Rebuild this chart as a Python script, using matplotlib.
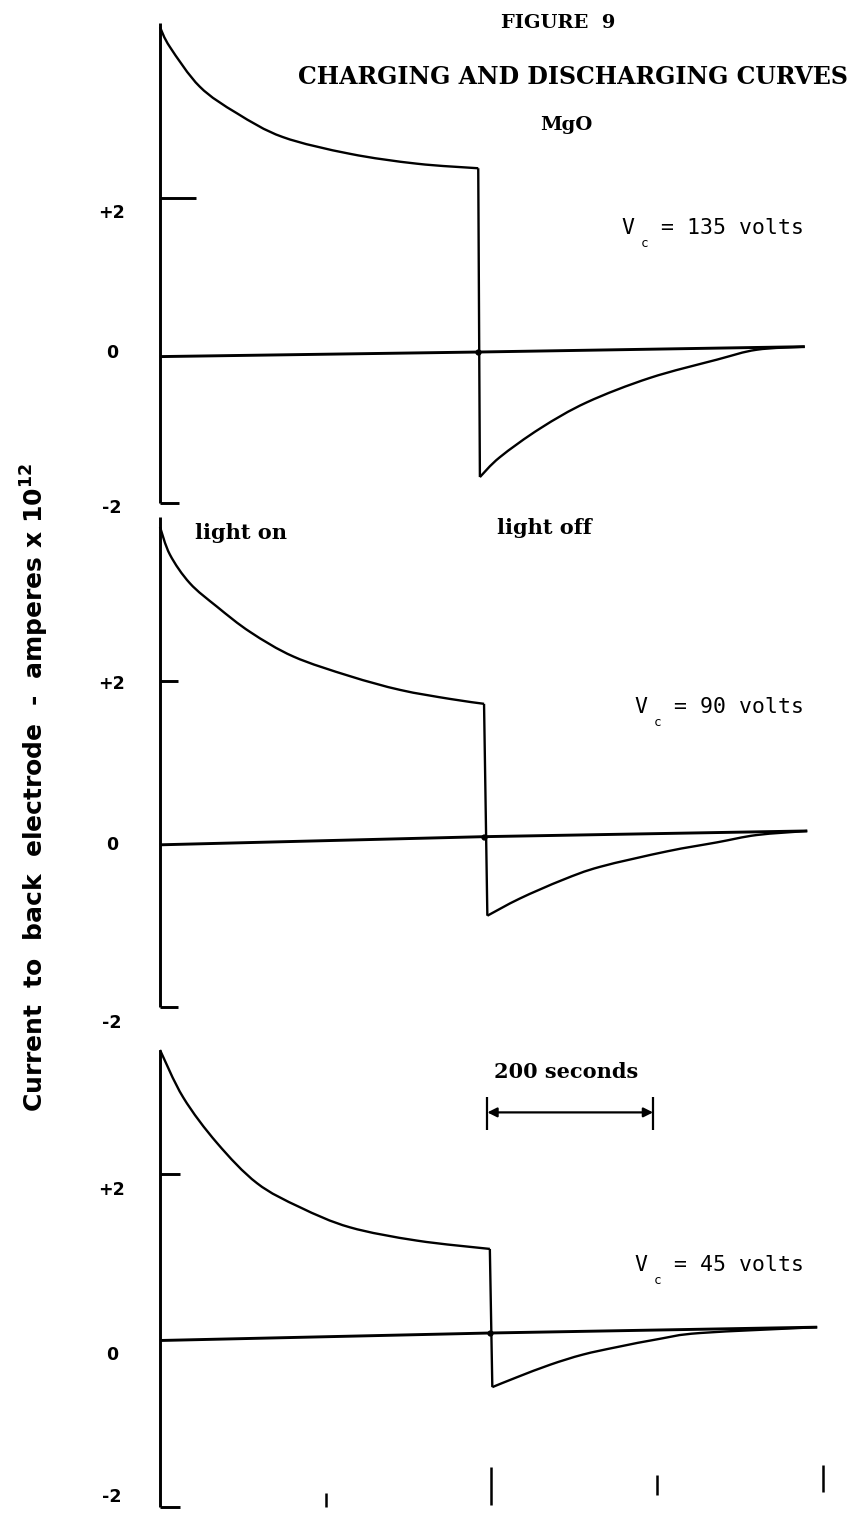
import matplotlib.pyplot as plt
from matplotlib.path import Path
from matplotlib.patches import PathPatch

W, H = 853, 1514

# time in seconds, current in units of 1e-12 A
time_ticks = [200, 400, 600, 800]
tick_values = [2, 0, -2]
tick_labels = ["+2", "0", "-2"]

# Vc = 135 volts
t135_on = [0, 12, 48, 93, 148, 229, 310, 384]
i135_on = [4.24, 3.98, 3.46, 3.11, 2.80, 2.58, 2.45, 2.39]
t135_off = [386, 410, 459, 515, 591, 672, 720, 778]
i135_off = [-1.66, -1.40, -1.02, -0.68, -0.36, -0.12, 0.01, 0.05]
base135_t = [0, 384, 778]
base135_i = [-0.08, -0.02, 0.05]

# Vc = 90 volts
t90_on = [0, 12, 36, 69, 109, 161, 229, 290, 350, 391]
i90_on = [3.89, 3.55, 3.20, 2.91, 2.60, 2.30, 2.06, 1.89, 1.78, 1.72]
t90_off = [395, 434, 486, 531, 612, 672, 720, 781]
i90_off = [-0.88, -0.67, -0.44, -0.28, -0.09, 0.02, 0.11, 0.16]
base90_t = [0, 391, 781]
base90_i = [-0.01, 0.09, 0.16]

# Vc = 45 volts
t45_on = [0, 28, 69, 117, 169, 229, 310, 398]
i45_on = [3.49, 2.92, 2.37, 1.89, 1.60, 1.36, 1.20, 1.10]
t45_off = [401, 431, 471, 510, 551, 603, 652, 793]
i45_off = [-0.56, -0.44, -0.29, -0.17, -0.08, 0.02, 0.09, 0.16]
base45_t = [0, 398, 793]
base45_i = [0.0, 0.09, 0.16]

volts = ["135", "90", "45"]

# pixel rows of the +2 and -2 ticks of each panel
panel_rows = [(198, 503), (681, 1007), (1174, 1507)]
YMAX = 4.5


def smooth_curve(ts, vs):
    # Catmull-Rom style bezier through the read points
    pts = list(zip(ts, vs))
    verts = [pts[0]]
    codes = [Path.MOVETO]
    for j in range(len(pts) - 1):
        p0 = pts[j - 1] if j > 0 else pts[j]
        p1 = pts[j]
        p2 = pts[j + 1]
        p3 = pts[j + 2] if j + 2 < len(pts) else pts[j + 1]
        c1 = (p1[0] + (p2[0] - p0[0]) / 6, p1[1] + (p2[1] - p0[1]) / 6)
        c2 = (p2[0] - (p3[0] - p1[0]) / 6, p2[1] - (p3[1] - p1[1]) / 6)
        verts += [c1, c2, p2]
        codes += [Path.CURVE4] * 3
    return Path(verts, codes)


fig = plt.figure(figsize=(W / 100, H / 100), dpi=100)
fig.patch.set_facecolor("white")
plt.rcParams["mathtext.default"] = "regular"

axes = []
for p2, pm2 in panel_rows:
    k = (pm2 - p2) / 4.0
    top = p2 - (YMAX - 2) * k
    ax = fig.add_axes([160 / W, 1 - pm2 / H, 663 / W, (pm2 - top) / H])
    ax.set_xlim(0, 800)
    ax.set_ylim(-2, YMAX)
    ax.axis("off")
    axes.append(ax)

line_kw = dict(color="black", solid_capstyle="butt", clip_on=False)

panels = [
    (t135_on, i135_on, t135_off, i135_off, base135_t, base135_i),
    (t90_on, i90_on, t90_off, i90_off, base90_t, base90_i),
    (t45_on, i45_on, t45_off, i45_off, base45_t, base45_i),
]
axis_top = [4.30, 4.01, 3.49]
tick_len = [(43, 23), (22, 22), (24, 24)]
label_shift = [(-0.20, -0.03, -0.07), (-0.04, -0.01, -0.20), (-0.19, -0.17, 0.12)]
vc_pos = [(558, 1.61), (573, 1.68), (573, 0.91)]

for n, ax in enumerate(axes):
    t_on, i_on, t_off, i_off, bt, bi = panels[n]

    # hand drawn vertical axis with its +2 and -2 marks
    ax.plot([0, 0], [axis_top[n], -2], lw=2.1, **line_kw)
    ax.plot([0, tick_len[n][0]], [2, 2], lw=2.1, **line_kw)
    ax.plot([0, tick_len[n][1]], [-2, -2], lw=2.1, **line_kw)
    for val, lab, dy in zip(tick_values, tick_labels, label_shift[n]):
        ax.text(-58, val + dy, lab, ha="center", va="center", fontsize=12.5,
                family="DejaVu Sans", weight="bold")

    # zero line
    ax.plot(bt, bi, lw=2.1, **line_kw)

    # charging curve, the drop at light off, discharging curve
    for ts, vs in ((t_on, i_on), (t_off, i_off)):
        ax.add_patch(PathPatch(smooth_curve(ts, vs), fill=False, ec="black",
                               lw=1.7, clip_on=False))
    ax.plot([t_on[-1], t_off[0]], [i_on[-1], i_off[0]], lw=1.7,
            solid_joinstyle="miter", **line_kw)
    ax.plot([bt[1]], [bi[1]], "o", color="black", ms=3.5, clip_on=False)

    vt, vv = vc_pos[n]
    ax.text(vt, vv, "V  = %s volts" % volts[n], ha="left", va="center",
            fontsize=15.5, family="DejaVu Sans Mono")
    ax.annotate("c", xy=(vt, vv), xytext=(16, -11), textcoords="offset points",
                ha="center", va="center", fontsize=9, family="DejaVu Sans Mono")

# time marks below the last panel
ax = axes[2]
tick_lo = [-2.0, -1.98, -1.86, -1.82]
tick_hi = [-1.83, -1.52, -1.62, -1.50]
ax.vlines(time_ticks, tick_lo, tick_hi, color="black", lw=1.8, clip_on=False)

# 200 second scale bar
bar_start, bar_len = 395, 200
ax.annotate("", xy=(bar_start, 2.74), xytext=(bar_start + bar_len, 2.74),
            arrowprops=dict(arrowstyle="<|-|>", color="black", lw=1.6,
                            mutation_scale=14, shrinkA=0, shrinkB=0))
ax.vlines([bar_start, bar_start + bar_len], 2.53, 2.92, color="black", lw=1.6)
ax.text(bar_start + bar_len / 2 - 5, 3.23, "200 seconds", ha="center", va="center",
        fontsize=15, family="DejaVu Serif", weight="bold")

axes[1].text(42, 3.82, "light on", ha="left", va="center", fontsize=15,
             family="DejaVu Serif", weight="bold")
axes[1].text(407, 3.88, "light off", ha="left", va="center", fontsize=15,
             family="DejaVu Serif", weight="bold")

# titles
fig.text(558 / W, 1 - 23 / H, "FIGURE  9", ha="center", va="center",
         fontsize=14, family="DejaVu Serif", weight="bold")
fig.text(573 / W, 1 - 77 / H, "CHARGING AND DISCHARGING CURVES", ha="center",
         va="center", fontsize=17, family="DejaVu Serif", weight="bold")
fig.text(566 / W, 1 - 125 / H, "MgO", ha="center", va="center",
         fontsize=14, family="DejaVu Serif", weight="bold")

fig.text(35 / W, 1 - 787 / H,
         "Current  to  back  electrode  -  amperes x 10$^{12}$",
         rotation=90, ha="center", va="center", fontsize=18,
         family="DejaVu Sans", weight="bold")

fig.savefig("out.png", dpi=100, facecolor="white")
